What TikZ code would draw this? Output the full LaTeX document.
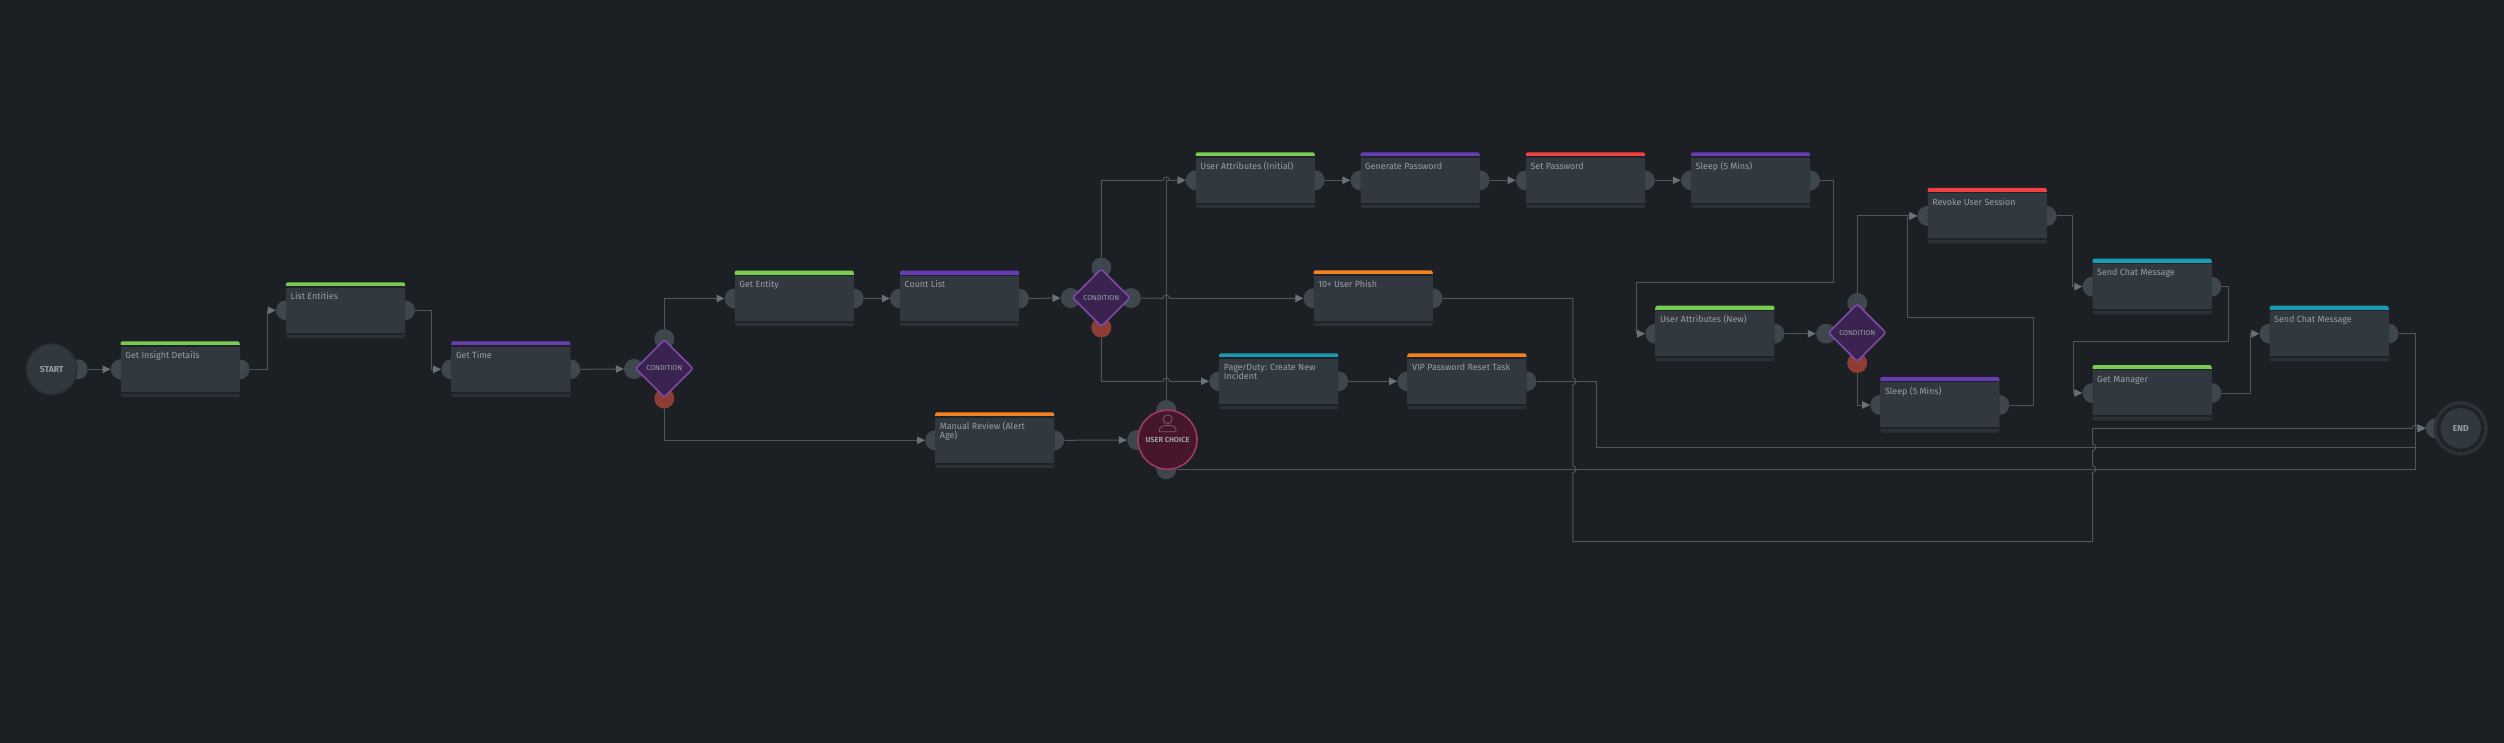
\documentclass[tikz,border=0pt]{standalone}
\usepackage{fontspec}
\setmainfont{Fira Sans}
\usetikzlibrary{arrows.meta,calc,shapes.geometric}
\definecolor{bgc}{HTML}{1C1F23}
\definecolor{bodyc}{HTML}{323840}
\definecolor{darkc}{HTML}{1F2228}
\definecolor{footc}{HTML}{2C3137}
\definecolor{portc}{HTML}{3E464E}
\definecolor{redport}{HTML}{8E3D35}
\definecolor{linec}{HTML}{50555C}
\definecolor{tipc}{HTML}{6A6F78}
\definecolor{textc}{HTML}{9CA0A5}
\definecolor{barG}{HTML}{78CC52}
\definecolor{barP}{HTML}{6A3CB4}
\definecolor{barR}{HTML}{F04040}
\definecolor{barT}{HTML}{1A9AB0}
\definecolor{barO}{HTML}{F5821F}
\definecolor{condfill}{HTML}{3A2350}
\definecolor{conddraw}{HTML}{7E4AA8}
\definecolor{choicefill}{HTML}{48162A}
\definecolor{choicedraw}{HTML}{9E3A68}
\definecolor{iconc}{HTML}{7D5A6C}
\tikzset{
  x=1pt,y=-1pt,
  portdot/.style={circle,fill=portc,minimum size=20pt,inner sep=0pt},
  redportdot/.style={circle,fill=redport,minimum size=20pt,inner sep=0pt},
  taskshape/.style={rectangle,fill=footc,minimum width=119pt,minimum height=55.5pt,inner sep=0pt,anchor=north west,rounded corners=2pt},
  tasktext/.style={anchor=north west,inner sep=0pt,align=left,text=textc,font=\fontsize{8.95}{9.3}\selectfont},
  condshape/.style={diamond,aspect=1,minimum width=58pt,minimum height=58pt,inner sep=0pt,fill=condfill,draw=conddraw,line width=1.6pt,rounded corners=2.5pt,text=textc,font=\fontsize{7.1}{7.5}\selectfont},
  conn/.style={draw=linec,line width=1pt,-{Triangle[length=8pt,width=7.5pt,fill=tipc,color=tipc]}},
  connplain/.style={draw=linec,line width=1pt}
}
\newcommand{\taskbox}[6]{%
  \node[portdot] (#1-in) at (#2,#3+28) {};
  \node[portdot] (#1-out) at (#2+119,#3+28) {};
  \node[taskshape] (#1) at (#2,#3) {};
  \fill[#4,rounded corners=2pt] (#2,#3) rectangle (#2+119,#3+5);
  \fill[#4] (#2,#3+2.5) rectangle (#2+119,#3+4);
  \fill[darkc] (#2,#3+4) rectangle (#2+119,#3+5.4);
  \fill[bodyc] (#2,#3+5.4) rectangle (#2+119,#3+50.4);
  \fill[darkc] (#2,#3+50.4) rectangle (#2+119,#3+52.4);
  \node[tasktext] (#1-t) at (#2+4.5,#3+8.5) {\rule{0pt}{8.5pt}#6};
}
\begin{document}
\begin{tikzpicture}
\useasboundingbox (0,0) rectangle (2504,742);
\fill[bgc] (-3,-3) rectangle (2507,745);
% start and end
\node[portdot] (st-out) at (77.7,369.3) {};
\node[circle,fill=bodyc,draw=footc,line width=1.8pt,minimum size=50pt,inner sep=0pt,text=textc,font=\fontsize{8.6}{9}\selectfont\bfseries] (st) at (51.7,369.3) {START};
\node[portdot] (end-in) at (2435.7,428.3) {};
\node[circle,fill=darkc,draw=footc,line width=3.4pt,minimum size=51pt,inner sep=0pt] (end-ring) at (2460.7,428.3) {};
\node[circle,fill=bodyc,minimum size=40.6pt,inner sep=0pt,text=textc,font=\fontsize{8.6}{9}\selectfont\bfseries] (end) at (2460.7,428.3) {END};
% tasks
\taskbox{ins}{120.7}{341.3}{barG}{}{Get Insight Details}
\taskbox{lst}{286}{282.3}{barG}{}{List Entities}
\taskbox{tim}{451.3}{341.3}{barP}{}{Get Time}
\taskbox{ent}{734.7}{270.5}{barG}{}{Get Entity}
\taskbox{cnt}{900}{270.5}{barP}{}{Count List}
\taskbox{man}{935.2}{412.3}{barO}{}{Manual Review (Alert\\Age)}
\taskbox{uai}{1195.7}{152.3}{barG}{}{User Attributes (Initial)}
\taskbox{gen}{1360.5}{152.3}{barP}{}{Generate Password}
\taskbox{set}{1525.8}{152.3}{barR}{}{Set Password}
\taskbox{slp}{1691}{152.3}{barP}{}{Sleep (5 Mins)}
\taskbox{phi}{1313.6}{270.3}{barO}{}{10+ User Phish}
\taskbox{pag}{1219.2}{353.3}{barT}{}{PagerDuty: Create New\\Incident}
\taskbox{vip}{1407.4}{353.3}{barO}{}{VIP Password Reset Task}
\taskbox{uan}{1655.4}{305.7}{barG}{}{User Attributes (New)}
\taskbox{rev}{1927.6}{187.9}{barR}{}{Revoke User Session}
\taskbox{slq}{1880.3}{377}{barP}{}{Sleep (5 Mins)}
\taskbox{sca}{2092.5}{258.6}{barT}{}{Send Chat Message}
\taskbox{mgr}{2092.5}{365}{barG}{}{Get Manager}
\taskbox{scb}{2269.5}{305.7}{barT}{}{Send Chat Message}
% conditions
\node[portdot] (ca-l) at (634,369) {};
\node[portdot] (ca-t) at (664.3,339) {};
\node[redportdot] (ca-b) at (664.3,398.5) {};
\node[condshape] (ca) at (664.3,368.5) {CONDITION};
\node[portdot] (cb-l) at (1070.7,298) {};
\node[portdot] (cb-r) at (1131,298) {};
\node[portdot] (cb-t) at (1101.3,267.5) {};
\node[redportdot] (cb-b) at (1101.3,327.5) {};
\node[condshape] (cb) at (1101.3,297.7) {CONDITION};
\node[portdot] (cc-l) at (1826,333.7) {};
\node[portdot] (cc-t) at (1857.2,303) {};
\node[redportdot] (cc-b) at (1857.2,363) {};
\node[condshape] (cc) at (1857.2,332.7) {CONDITION};
% user choice
\node[portdot] (uc-l) at (1137,440) {};
\node[portdot] (uc-t) at (1166.3,410) {};
\node[portdot] (uc-b) at (1166.3,469.3) {};
\node[circle,fill=choicefill,draw=choicedraw,line width=1.6pt,minimum size=59pt,inner sep=0pt,text=textc,text depth=-1pt,font=\fontsize{7.4}{8}\selectfont\bfseries] (uc) at (1167.5,439.7) {USER CHOICE};
\draw[iconc,line width=.8pt] (1167.7,419.3) circle[radius=4.5pt];
\draw[iconc,line width=.8pt] (1159.5,431.7) -- (1159.5,429.5) .. controls (1160,426) and (1164,425.5) .. (1167.7,425.5) .. controls (1171,425.5) and (1175.5,426) .. (1176,429.5) -- (1176,431.7) -- cycle;
% connectors
\draw[conn] (st-out.east) -- (ins-in.west);
\draw[conn] (ins-out.east) -- ++(17.5,0) |- (lst-in.west);
\draw[conn] (lst-out.east) -- ++(16.5,0) |- (tim-in.west);
\draw[conn] (tim-out.east) -- (ca-l.west);
\draw[conn] (ca-t.north) |- (ent-in.west);
\draw[conn] (ca-b.south) |- (man-in.west);
\draw[conn] (ent-out.east) -- (cnt-in.west);
\draw[conn] (cnt-out.east) -- (cb-l.west);
\draw[conn] (man-out.east) -- (uc-l.west);
\draw[conn] (cb-t.north) -- (1101.3,180.3) -- (1163,180.3) arc[start angle=180,end angle=0,radius=3.3pt] -- (uai-in.west);
\draw[conn] (uc-t.north) |- (uai-in.west);
\draw[conn] (cb-r.east) -- (1163,298.3) arc[start angle=180,end angle=0,radius=3.3pt] -- (phi-in.west);
\draw[conn] (cb-b.south) -- (1101.3,381.3) -- (1163,381.3) arc[start angle=180,end angle=0,radius=3.3pt] -- (pag-in.west);
\draw[conn] (uai-out.east) -- (gen-in.west);
\draw[conn] (gen-out.east) -- (set-in.west);
\draw[conn] (set-out.east) -- (slp-in.west);
\draw[conn] (slp-out.east) -- (1833,180.3) -- (1833,282) -- (1636.5,282) |- (uan-in.west);
\draw[conn] (pag-out.east) -- (vip-in.west);
\draw[conn] (uan-out.east) -- (cc-l.west);
\draw[conn] (cc-t.north) |- (rev-in.west);
\draw[conn] (cc-b.south) |- (slq-in.west);
\draw[conn] (slq-out.east) -- (2033.7,405) -- (2033.7,317.3) -- (1907.4,317.3) |- (rev-in.west);
\draw[conn] (rev-out.east) -- (2072.9,215.9) |- (sca-in.west);
\draw[conn] (sca-out.east) -- (2228.6,286.6) -- (2228.6,341.3) -- (2073.5,341.3) |- (mgr-in.west);
\draw[conn] (mgr-out.east) -- (2250.5,393) |- (scb-in.west);
\draw[conn] (scb-out.east) -- (2415.5,333.7) |- (end-in.west);
\draw[conn] (uc-b.east) -- (2415.5,469.3) |- (end-in.west);
\draw[conn] (vip-out.east) -- (1596.7,381.3) -- (1596.7,447.3) -- (2415.5,447.3) |- (end-in.west);
\draw[conn] (phi-out.east) -- (1572.8,298.3) -- (1572.8,378) arc[start angle=90,end angle=-90,radius=3.3pt] -- (1572.8,466) arc[start angle=90,end angle=-90,radius=3.3pt] -- (1572.8,541.7) -- (2092.5,541.7) -- (2092.5,472.6) arc[start angle=-90,end angle=90,radius=3.3pt] -- (2092.5,450.6) arc[start angle=-90,end angle=90,radius=3.3pt] -- (2092.5,428.3) -- (2412.2,428.3) arc[start angle=180,end angle=0,radius=3.3pt] -- (end-in.west);
\end{tikzpicture}
\end{document}
